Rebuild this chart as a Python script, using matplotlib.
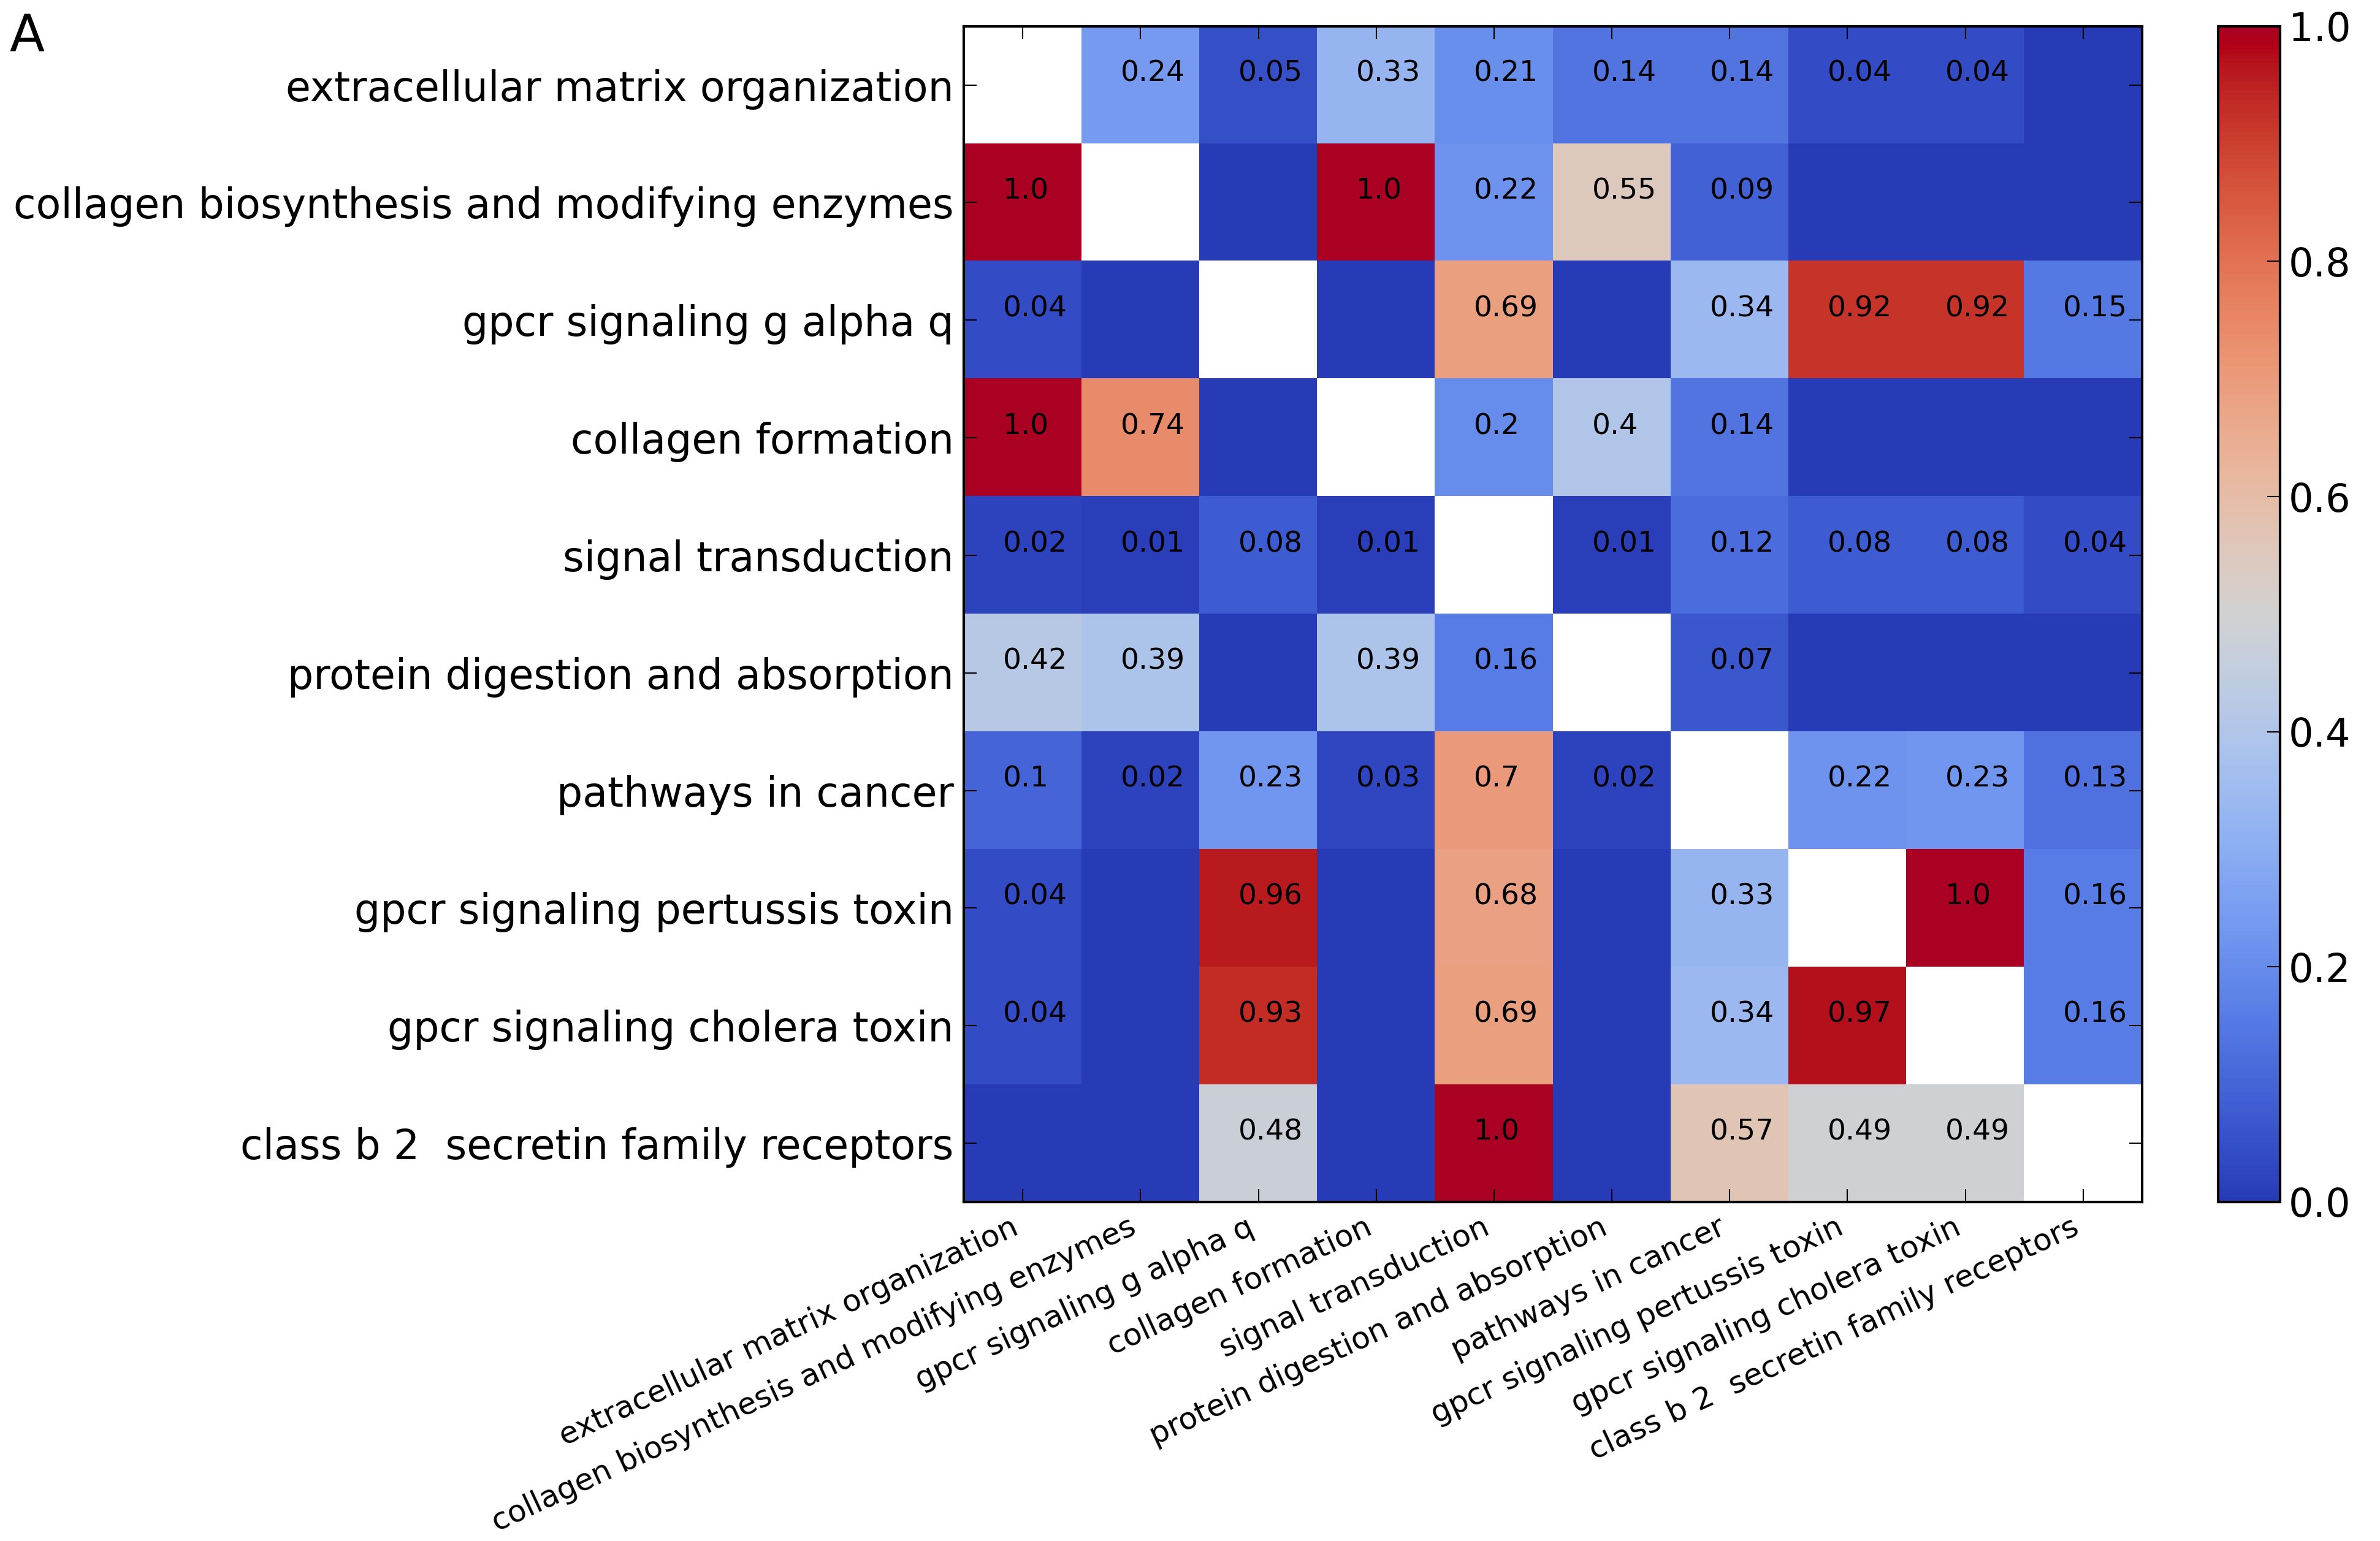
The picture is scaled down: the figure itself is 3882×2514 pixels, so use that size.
import numpy as np
import matplotlib
matplotlib.use('Agg')
import matplotlib.pyplot as plt
from matplotlib.colors import ListedColormap, rgb_to_hsv, hsv_to_rgb
from matplotlib.transforms import ScaledTranslation

# pathway labels (rows == columns)
pathways = [
    'extracellular matrix organization',
    'collagen biosynthesis and modifying enzymes',
    'gpcr signaling g alpha q',
    'collagen formation',
    'signal transduction',
    'protein digestion and absorption',
    'pathways in cancer',
    'gpcr signaling pertussis toxin',
    'gpcr signaling cholera toxin',
    'class b 2  secretin family receptors',
]

# overlap matrix, diagonal left empty
row_ecm = [np.nan, 0.24, 0.05, 0.33, 0.21, 0.14, 0.14, 0.04, 0.04, 0.0]
row_cbme = [1.0, np.nan, 0.0, 1.0, 0.22, 0.55, 0.09, 0.0, 0.0, 0.0]
row_gaq = [0.04, 0.0, np.nan, 0.0, 0.69, 0.0, 0.34, 0.92, 0.92, 0.15]
row_cf = [1.0, 0.74, 0.0, np.nan, 0.2, 0.4, 0.14, 0.0, 0.0, 0.0]
row_st = [0.02, 0.01, 0.08, 0.01, np.nan, 0.01, 0.12, 0.08, 0.08, 0.04]
row_pda = [0.42, 0.39, 0.0, 0.39, 0.16, np.nan, 0.07, 0.0, 0.0, 0.0]
row_pic = [0.1, 0.02, 0.23, 0.03, 0.7, 0.02, np.nan, 0.22, 0.23, 0.13]
row_gpt = [0.04, 0.0, 0.96, 0.0, 0.68, 0.0, 0.33, np.nan, 1.0, 0.16]
row_gct = [0.04, 0.0, 0.93, 0.0, 0.69, 0.0, 0.34, 0.97, np.nan, 0.16]
row_cb2 = [0.0, 0.0, 0.48, 0.0, 1.0, 0.0, 0.57, 0.49, 0.49, np.nan]

cbar_ticks = [0.0, 0.2, 0.4, 0.6, 0.8, 1.0]

mat = np.array([row_ecm, row_cbme, row_gaq, row_cf, row_st,
                row_pda, row_pic, row_gpt, row_gct, row_cb2])
n = len(pathways)

plt.rcParams['font.family'] = 'DejaVu Sans'

# coolwarm, a bit more saturated like the scanned figure
base = plt.get_cmap('coolwarm')(np.linspace(0, 1, 256))[:, :3]
hsv = rgb_to_hsv(base)
hsv[:, 1] = np.clip(hsv[:, 1] * 1.12, 0, 1)
hsv[:, 2] = hsv[:, 2] * 0.95
cmap = ListedColormap(hsv_to_rgb(hsv))
cmap.set_bad('white')

fig = plt.figure(figsize=(38.82, 25.14), dpi=100)
ax = fig.add_axes([0.405, 0.220, 0.495, 0.763])
cax = fig.add_axes([0.932, 0.220, 0.026, 0.763])

im = ax.imshow(np.ma.masked_invalid(mat), cmap=cmap, vmin=0, vmax=1,
               interpolation='nearest', aspect='auto')

# numbers in the cells, zeros left blank
for i in range(n):
    for j in range(n):
        v = mat[i, j]
        if np.isnan(v) or v == 0:
            continue
        ax.text(j - 0.17, i - 0.03, str(round(v, 2)), ha='left',
                va='baseline', fontsize=34, color='black')

ax.set_xticks(range(n))
ax.set_yticks(range(n))
ax.set_xticklabels(pathways, rotation=25, ha='right', fontsize=36)
ax.set_yticklabels(pathways, fontsize=48)
# row labels sit a little above the row centre in the original
shift = ScaledTranslation(0, 0.1, fig.dpi_scale_trans)
for lab in ax.get_yticklabels():
    lab.set_transform(lab.get_transform() + shift)
ax.tick_params(direction='in', length=15, width=1.5, top=True, right=True,
               pad=12)
for sp in ax.spines.values():
    sp.set_linewidth(3)

cb = fig.colorbar(im, cax=cax, ticks=cbar_ticks)
cb.ax.tick_params(direction='in', length=15, width=1.5, labelsize=46, pad=10)
cb.outline.set_linewidth(3)

fig.text(0.004, 0.992, 'A', fontsize=60, ha='left', va='top')

fig.savefig('out.png', dpi=100)
